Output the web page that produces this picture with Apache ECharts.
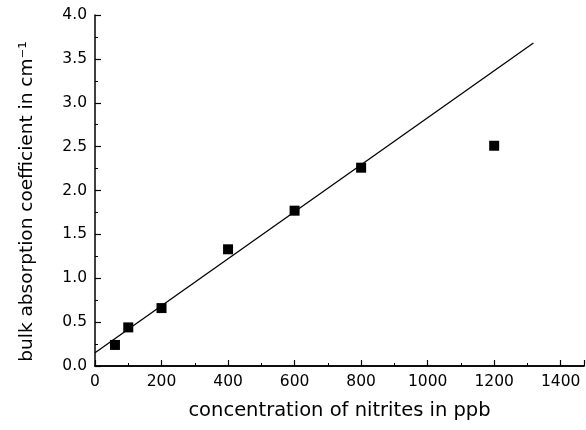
<!DOCTYPE html>
<html>
<head>
<meta charset="utf-8">
<script src="https://cdn.jsdelivr.net/npm/echarts@6/dist/echarts.min.js"></script>
<style>
  html, body { margin: 0; padding: 0; background: #fff; }
  #chart { width: 586px; height: 430px; }
</style>
</head>
<body>
<div id="chart"></div>
<script>
// ---------- data ----------
const concentration = [60, 100, 200, 400, 600, 800, 1200];      // ppb
const absorption = [0.24, 0.44, 0.66, 1.33, 1.77, 2.26, 2.51];  // cm^-1
const fitX = [0, 1318];
const fitY = [0.15, 3.68];

const FONT = 'DejaVu Sans, Liberation Sans, sans-serif';

const chart = echarts.init(document.getElementById('chart'), null, { renderer: 'canvas' });

const axisCommon = {
  axisLine: { show: true, onZero: false, lineStyle: { color: '#000', width: 1.5 } },
  axisTick: { show: true, inside: true, length: 6, lineStyle: { color: '#000', width: 1.2 } },
  minorTick: { show: true, splitNumber: 2, length: 3, lineStyle: { color: '#000' } },
  splitLine: { show: false },
  axisLabel: { color: '#000', fontFamily: FONT, fontSize: 15.5 },
};

chart.setOption({
  backgroundColor: '#fff',
  animation: false,
  grid: { left: 95, right: 2, top: 15, bottom: 64 },
  xAxis: [
    {
      ...axisCommon,
      type: 'value',
      min: 0,
      max: 1470,
      interval: 200,
      position: 'bottom',
      name: 'concentration of nitrites in ppb',
      nameLocation: 'middle',
      nameGap: 35,
      nameTextStyle: { color: '#000', fontFamily: FONT, fontSize: 19.5 },
      axisLabel: { ...axisCommon.axisLabel, margin: 8, showMaxLabel: false,
        formatter: v => (v % 200 === 0 ? String(v) : '') },
    },
    {
      type: 'value', min: 0, max: 1470, position: 'top',
      axisLine: { show: true, lineStyle: { color: '#000', width: 1.5 } },
      axisTick: { show: false }, axisLabel: { show: false }, splitLine: { show: false },
    },
  ],
  yAxis: [
    {
      ...axisCommon,
      type: 'value',
      min: 0,
      max: 4,
      interval: 0.5,
      name: 'bulk absorption coefficient in cm⁻¹',
      nameLocation: 'middle',
      nameGap: 58,
      // nudge the rotated title a bit lower, as in the original
      nameTextStyle: { color: '#000', fontFamily: FONT, fontSize: 18.5, padding: [0, 22, 0, 0] },
      axisLabel: { ...axisCommon.axisLabel, margin: 8, formatter: v => v.toFixed(1) },
    },
  ],
  series: [
    {
      type: 'line',
      data: fitX.map((x, i) => [x, fitY[i]]),
      symbol: 'none',
      lineStyle: { color: '#000', width: 1.3 },
      silent: true,
    },
    {
      type: 'scatter',
      data: concentration.map((x, i) => [x, absorption[i]]),
      symbol: 'rect',
      symbolSize: 10,
      itemStyle: { color: '#000', opacity: 1 },
    },
  ],
});
</script>
</body>
</html>
